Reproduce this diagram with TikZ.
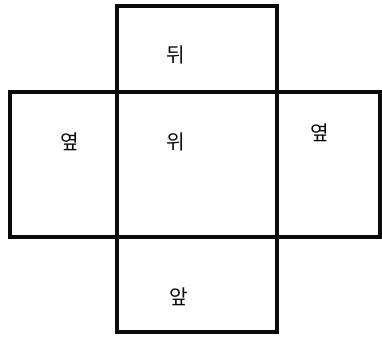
\documentclass[tikz,border=0pt]{standalone}
\usepackage{fontspec}
\usepackage{xcolor}
\usepackage{tikz}
\usetikzlibrary{positioning}
\newfontfamily\korfont{Noto Sans CJK KR}
\definecolor{InkBlack}{RGB}{10, 10, 10}
\tikzset{
    face/.style={draw=InkBlack, line width=2.5pt},
    facelabel/.style={font=\korfont\fontsize{11.5}{13}\selectfont, text=InkBlack, inner sep=0pt}
}
\begin{document}
\begin{tikzpicture}[x=0.02cm, y=-0.02cm]
            \useasboundingbox (0,0) rectangle (382,338);
            % faces of the net
            \draw[face] (117,6) rectangle (277,92);
            \draw[face] (10,92) rectangle (117,237);
            \draw[face] (117,92) rectangle (277,237);
            \draw[face] (277,92) rectangle (380,237);
            \draw[face] (117,237) rectangle (277,332);
            % labels
            \node[facelabel] (back) at (176,55) {뒤};
            \node[facelabel] (top) at (176,142) {위};
            \node[facelabel] (leftside) at (70,142) {옆};
            \node[facelabel] (rightside) at (320,133) {옆};
            \node[facelabel] (front) at (179,297) {앞};
        \end{tikzpicture}
\end{document}
